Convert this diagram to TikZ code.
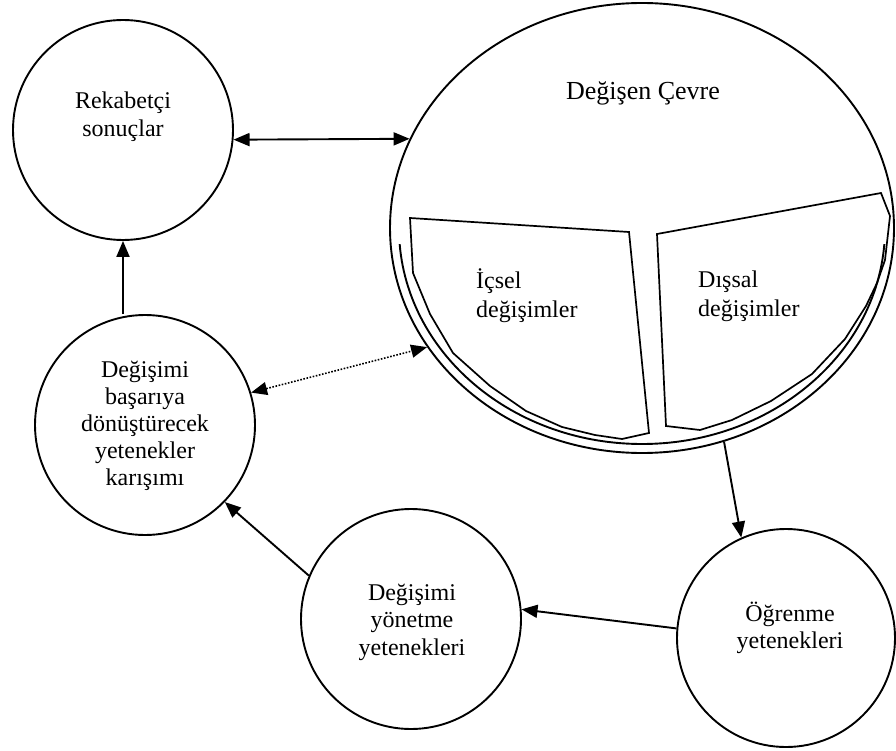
\documentclass[tikz,border=0pt]{standalone}
\usepackage{fontspec}
\setmainfont{Liberation Serif}
\usetikzlibrary{arrows.meta,shapes.geometric,calc}

\tikzset{
  bubble/.style={draw, circle, line width=1.9pt, inner sep=0pt, minimum size=220pt},
  lbl/.style={font=\fontsize{24}{28}\selectfont, align=center, inner sep=0pt},
  sublbl/.style={font=\fontsize{24}{29}\selectfont, align=left, anchor=west, inner sep=0pt},
  arr/.style={line width=1.9pt, -{Triangle[length=16pt,width=13pt]}},
  dblarr/.style={line width=1.9pt, {Triangle[length=16pt,width=13pt]}-{Triangle[length=16pt,width=13pt]}},
  dotarr/.style={line width=1.6pt, dash pattern=on 1.6pt off 1.6pt,
    {Triangle[length=16pt,width=13pt]}-{Triangle[length=16pt,width=13pt]}},
  part/.style={draw, line width=1.7pt, line join=miter}
}

\begin{document}
\begin{tikzpicture}[x=1pt, y=-1pt]
\useasboundingbox (0,0) rectangle (896,751);

% changing environment: ellipse with a second line along its lower rim
\node[draw, ellipse, line width=1.9pt, inner sep=0pt,
      minimum width=504pt, minimum height=450pt] (env) at (642,228) {};
\begin{scope}
  \clip (380,245) rectangle (896,460);
  \draw[line width=1.9pt] (env.center) ellipse [x radius=243, y radius=216];
\end{scope}
\node[lbl, font=\fontsize{26}{30}\selectfont] (envtitle) at (643,93) {Değişen Çevre};

% internal changes segment
\draw[part] (410,218) -- (629,232) -- (649,433) -- (622,439) -- (595,435)
  -- (562,427) -- (526,411) -- (490,386) -- (453,353) -- (430,314)
  -- (413,273) -- cycle;
\node[sublbl] (internal) at (476,296) {İçsel\\değişimler};

% external changes segment
\draw[part] (657,234) -- (881,193) -- (890,216) -- (885,260) -- (877,283)
  -- (866,306) -- (845,339) -- (812,374) -- (771,401) -- (732,420)
  -- (700,430) -- (666,426) -- cycle;
\node[sublbl] (external) at (698,296) {Dışsal\\değişimler};

% capability circles
\node[bubble] (rek) at (123,130) {};
\node[lbl] (rektext) at (123,117) {Rekabetçi\\sonuçlar};

\node[bubble] (bas) at (145,425) {};
\node[lbl, font=\fontsize{24}{27}\selectfont] (bastext) at (145,426)
  {Değişimi\\başarıya\\dönüştürecek\\yetenekler\\karışımı};

\node[bubble] (yon) at (411,619) {};
\node[lbl, font=\fontsize{24}{27.5}\selectfont] (yontext) at (412,622)
  {Değişimi\\yönetme\\yetenekleri};

\node[bubble, minimum size=218pt] (ogr) at (786,638) {};
\node[lbl, font=\fontsize{24}{27}\selectfont] (ogrtext) at (790,628)
  {Öğrenme\\yetenekleri};

% connectors
\draw[dblarr] (rek.-5) -- (env.159);
\draw[dotarr] (bas.17) -- (env.209);
\draw[arr] (rek.south |- bas.north) -- (rek.south);
\draw[arr] (env.-69.5) -- (ogr.114);
\draw[arr] (ogr.175) -- (yon.5);
\draw[arr] (yon.157) -- (bas.-44);
\end{tikzpicture}
\end{document}
